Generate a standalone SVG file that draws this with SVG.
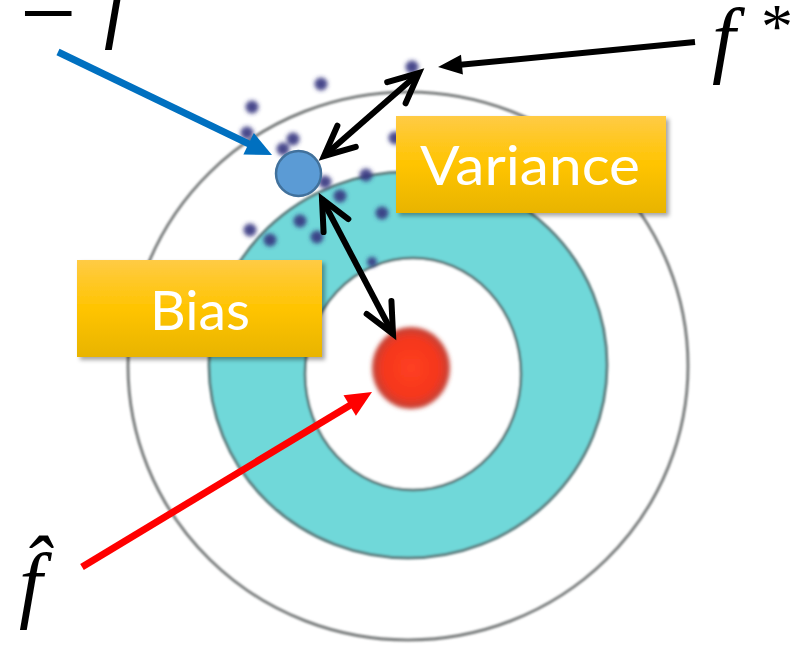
<svg xmlns="http://www.w3.org/2000/svg" width="790" height="651" viewBox="0 0 790 651">
<style>
.ring{fill:none;stroke:#7d8080;stroke-width:3}
.dot{fill:#33357f;opacity:0.9}
.box{fill:url(#gold);filter:url(#shadow)}
.boxtxt{font-family:Lato,"Open Sans","Liberation Sans",sans-serif;font-size:54px;fill:#ffffff}
.math{font-family:"Liberation Serif","DejaVu Serif",serif;font-size:84px;fill:#000000}
.it{font-style:italic}
.blk{fill:none;stroke:#000000;stroke-width:6}
</style>
<defs>
<linearGradient id="gold" x1="0" y1="0" x2="0" y2="1">
<stop offset="0" stop-color="#FFCB45"/>
<stop offset="0.5" stop-color="#FFC400"/>
<stop offset="1" stop-color="#E8B400"/>
</linearGradient>
<radialGradient id="redg" cx="0.5" cy="0.5" r="0.5">
<stop offset="0" stop-color="#FF4020"/>
<stop offset="0.72" stop-color="#F5361F"/>
<stop offset="1" stop-color="#C04438"/>
</radialGradient>
<filter id="shadow" x="-10%" y="-10%" width="125%" height="130%">
<feDropShadow dx="3" dy="3" stdDeviation="2" flood-color="#000000" flood-opacity="0.35"/>
</filter>
<filter id="soft" x="-5%" y="-5%" width="110%" height="110%">
<feGaussianBlur stdDeviation="1.2"/>
</filter>
<filter id="soft2" x="-50%" y="-50%" width="200%" height="200%">
<feGaussianBlur stdDeviation="2.2"/>
</filter>
<marker id="triBlue" markerUnits="userSpaceOnUse" orient="auto" refX="0" refY="0" markerWidth="60" markerHeight="60" overflow="visible">
<path d="M-14,-12 L12,0 L-14,12 Z" fill="#0070C0"/>
</marker>
<marker id="triRed" markerUnits="userSpaceOnUse" orient="auto" refX="0" refY="0" markerWidth="60" markerHeight="60" overflow="visible">
<path d="M-14,-12 L12,0 L-14,12 Z" fill="#FF0000"/>
</marker>
<marker id="triBlack" markerUnits="userSpaceOnUse" orient="auto" refX="0" refY="0" markerWidth="60" markerHeight="60" overflow="visible">
<path d="M-12,-10 L12,0 L-12,10 Z" fill="#000000"/>
</marker>
<marker id="openV" markerUnits="userSpaceOnUse" orient="auto-start-reverse" refX="0" refY="0" markerWidth="80" markerHeight="80" overflow="visible">
<path d="M-30,-14 L0,0 L-30,14" fill="none" stroke="#000000" stroke-width="6" stroke-linecap="round" stroke-linejoin="miter"/>
</marker>
</defs>
<rect width="790" height="651" fill="#ffffff"/>

<g id="target" filter="url(#soft)">
<ellipse cx="408" cy="366" rx="280" ry="274" class="ring"/>
<ellipse cx="408" cy="365" rx="199" ry="193" fill="#70D8D9" stroke="#5d7f80" stroke-width="3"/>
<ellipse cx="413" cy="374" rx="108" ry="116" fill="#ffffff" stroke="#5d7f80" stroke-width="3"/>
</g>

<g id="red-dot" filter="url(#soft2)">
<ellipse cx="411" cy="368" rx="39" ry="41" fill="url(#redg)"/>
</g>

<g id="scatter" filter="url(#soft2)">
<circle cx="321" cy="84" r="6.5" class="dot"/>
<circle cx="252" cy="107" r="6.5" class="dot"/>
<circle cx="412" cy="67" r="6.5" class="dot"/>
<circle cx="247" cy="133" r="6.5" class="dot"/>
<circle cx="293" cy="139" r="6.5" class="dot"/>
<circle cx="283" cy="149" r="6.5" class="dot"/>
<circle cx="395" cy="138" r="6.5" class="dot"/>
<circle cx="325" cy="182" r="6.5" class="dot"/>
<circle cx="366" cy="175" r="6.5" class="dot"/>
<circle cx="340" cy="196" r="6.5" class="dot"/>
<circle cx="382" cy="213" r="6.5" class="dot"/>
<circle cx="300" cy="221" r="6.5" class="dot"/>
<circle cx="317" cy="237" r="6.5" class="dot"/>
<circle cx="250" cy="230" r="6.5" class="dot"/>
<circle cx="270" cy="240" r="6.5" class="dot"/>
<circle cx="372" cy="262" r="5" class="dot"/>
</g>

<g id="blue-dot">
<circle cx="298.5" cy="173.5" r="22.5" fill="#5B9BD5" stroke="#41719C" stroke-width="2.5"/>
</g>

<g id="box-variance">
<rect x="396" y="116" width="270" height="97" class="box"/>
<text x="420" y="185" class="boxtxt" textLength="220" lengthAdjust="spacingAndGlyphs">Variance</text>
</g>

<g id="box-bias">
<rect x="77" y="260" width="245" height="97" class="box"/>
<text x="150" y="330" class="boxtxt" textLength="100" lengthAdjust="spacingAndGlyphs">Bias</text>
</g>

<g id="label-fbar">
<text x="20" y="37" class="math"><tspan font-size="100">=</tspan><tspan class="it" x="104" y="32">f</tspan></text>
</g>

<g id="label-fstar">
<text x="712" y="67" class="math"><tspan class="it">f</tspan><tspan x="761" y="48" font-size="64">*</tspan></text>
</g>

<g id="label-fhat">
<text x="19" y="612" class="math it">f̂</text>
</g>

<g id="connectors">
<line x1="58" y1="52" x2="261.2" y2="149.8" stroke="#0070C0" stroke-width="7" marker-end="url(#triBlue)"/>
<line x1="82" y1="567" x2="361.7" y2="398.2" stroke="#FF0000" stroke-width="7" marker-end="url(#triRed)"/>
<line x1="695" y1="42" x2="450" y2="65.8" stroke="#000000" stroke-width="6" marker-end="url(#triBlack)"/>
<line x1="324" y1="156" x2="419" y2="73" class="blk" marker-start="url(#openV)" marker-end="url(#openV)"/>
<line x1="322" y1="199" x2="393" y2="334" class="blk" marker-start="url(#openV)" marker-end="url(#openV)"/>
</g>
</svg>
